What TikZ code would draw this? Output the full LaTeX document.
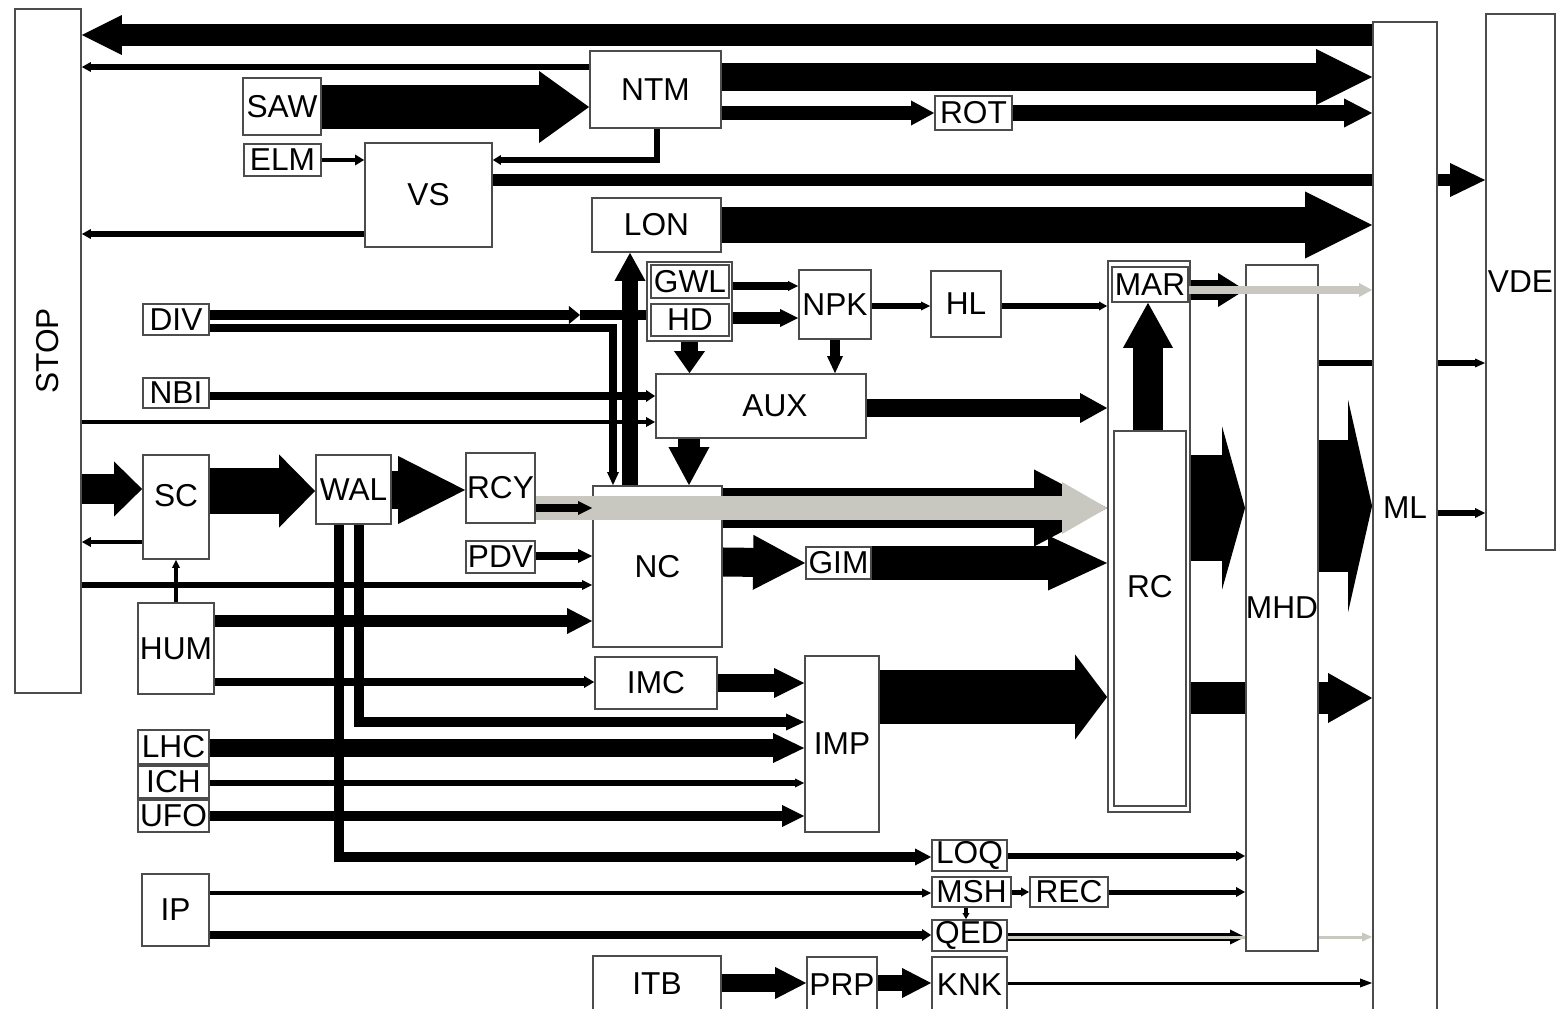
\documentclass[tikz,border=0pt]{standalone}
\usepackage{fontspec}
\setmainfont{Liberation Sans}
\usetikzlibrary{arrows.meta}
\pgfdeclarelayer{bg}
\pgfdeclarelayer{fg}
\pgfsetlayers{bg,main,fg}
\definecolor{flowgray}{RGB}{200,200,192}
\tikzset{
  box/.style={draw=black!70, fill=white, line width=0.5pt, inner sep=0pt},
  wh/.style 2 args={minimum width=#1cm, minimum height=#2cm},
  arr/.style n args={3}{line width=#1cm, -{Triangle[length=#2cm, width=#3cm, line width=0pt]}},
  ln/.style={line width=#1cm},
}

\begin{document}
\begin{tikzpicture}[x=0.01cm, y=-0.01cm, font=\fontsize{9}{10}\selectfont]
        \useasboundingbox (0,0) rectangle (1565,1009);

        % Bloecke links und rechts
        \node[box, wh={0.66}{6.84}, label={[rotate=90]center:STOP}] (stop) at (48,351) {};
        \node[box, wh={0.64}{9.90}, label={[yshift=0.09cm]center:ML}] (ml) at (1405,517) {};
        \node[box, wh={0.69}{5.36}] (vde) at (1520.5,282) {VDE};

        % Bloecke oben
        \node[box, wh={1.31}{0.77}] (ntm) at (655.5,89.5) {NTM};
        \node[box, wh={0.78}{0.57}] (saw) at (282,106.5) {SAW};
        \node[box, wh={0.77}{0.32}] (elm) at (282.5,160) {ELM};
        \node[box, wh={1.27}{1.04}] (vs) at (428.5,195) {VS};
        \node[box, wh={0.77}{0.34}] (rot) at (973.5,113) {ROT};
        \node[box, wh={1.29}{0.54}] (lon) at (656.5,225) {LON};

        % Gruppen
        \node[box, fill=none, wh={0.85}{0.79}] (gwlhd) at (689.5,301.5) {};
        \node[box, wh={0.78}{0.33}] (gwl) at (690,281.5) {GWL};
        \node[box, wh={0.78}{0.32}] (hd) at (690,320) {HD};
        \node[box, fill=none, wh={0.82}{5.51}] (marrc) at (1149,536.5) {};
        \node[box, wh={0.76}{0.35}] (mar) at (1150,284.5) {MAR};
        \node[box, wh={0.72}{3.75}, label={[yshift=0.32cm]center:RC}] (rc) at (1150,618.5) {};

        % Bloecke Mitte
        \node[box, wh={0.72}{0.69}] (npk) at (835,304.5) {NPK};
        \node[box, wh={0.70}{0.66}] (hl) at (966,304) {HL};
        \node[box, wh={0.72}{6.86}] (mhd) at (1282,608) {MHD};
        \node[box, wh={2.10}{0.64}, label={[xshift=0.14cm]center:AUX}] (aux) at (761,406) {};
        \node[box, wh={0.66}{0.31}] (div) at (176,319.5) {DIV};
        \node[box, wh={0.66}{0.30}] (nbi) at (176,393) {NBI};
        \node[box, wh={0.66}{1.04}, label={[yshift=0.11cm]center:SC}] (sc) at (176,507) {};
        \node[box, wh={0.75}{0.69}] (wal) at (353.5,489.5) {WAL};
        \node[box, wh={0.69}{0.70}] (rcy) at (500.5,488) {RCY};
        \node[box, wh={0.69}{0.32}] (pdv) at (500.5,557) {PDV};
        \node[box, wh={1.29}{1.61}] (nc) at (657.5,566.5) {NC};
        \node[box, wh={0.65}{0.32}] (gim) at (838.5,563) {GIM};
        \node[box, wh={0.76}{0.91}] (hum) at (176,648.5) {HUM};
        \node[box, wh={1.22}{0.52}] (imc) at (656,683) {IMC};
        \node[box, wh={0.74}{1.76}] (imp) at (842,744) {IMP};

        % Bloecke unten
        \node[box, wh={0.71}{0.34}] (lhc) at (173.5,747) {LHC};
        \node[box, wh={0.71}{0.32}] (ich) at (173.5,782) {ICH};
        \node[box, wh={0.71}{0.32}] (ufo) at (173.5,816) {UFO};
        \node[box, wh={0.67}{0.72}] (ip) at (175.5,910) {IP};
        \node[box, wh={0.75}{0.31}] (loq) at (969.5,855.5) {LOQ};
        \node[box, wh={0.79}{0.30}] (msh) at (971.5,892) {MSH};
        \node[box, wh={0.78}{0.30}] (rec) at (1069,892) {REC};
        \node[box, wh={0.75}{0.31}] (qed) at (969.5,935.5) {QED};
        \node[box, wh={1.28}{0.56}] (itb) at (657,984) {ITB};
        \node[box, wh={0.70}{0.55}] (prp) at (842,984.5) {PRP};
        \node[box, wh={0.75}{0.55}] (knk) at (969.5,984.5) {KNK};

        \begin{pgfonlayer}{bg}
            \fill[white] (0,0) rectangle (1565,1009);

            % oben
            \draw[arr={0.21}{0.40}{0.40}] (ml.west |- 0,35) -- (stop.east |- 0,35);
            \draw[arr={0.06}{0.09}{0.10}] (ntm.west |- 0,67) -- (stop.east |- 0,67);
            \draw[arr={0.43}{0.50}{0.72}] (saw.east |- 0,107) -- (ntm.west |- 0,107);
            \draw[arr={0.28}{0.56}{0.56}] (ntm.east |- 0,77) -- (ml.west |- 0,77);
            \draw[arr={0.13}{0.23}{0.25}] (ntm.east |- 0,113) -- (rot.west);
            \draw[arr={0.15}{0.28}{0.29}] (rot.east) -- (ml.west |- 0,113);
            \draw[arr={0.04}{0.09}{0.11}] (elm.east) -- (vs.west |- elm.east);
            \draw[arr={0.06}{0.08}{0.10}] (ntm.south -| 657,0) |- (vs.east |- 0,160);
            \draw[arr={0.05}{0.09}{0.10}] (vs.west |- 0,234) -- (stop.east |- 0,234);
            \draw[arr={0.12}{0.35}{0.34}] (vs.east |- 0,180) -- (vde.west |- 0,180);
            \draw[arr={0.36}{0.67}{0.67}] (lon.east) -- (ml.west |- lon.east);

            % Mitte
            \draw[arr={0.16}{0.28}{0.31}] (nc.north -| 630,0) -- (lon.south -| 630,0);
            \coordinate (divmid) at (580,315);
            \draw[ln=0.10] (divmid) -- (gwlhd.west |- divmid);
            \draw[arr={0.10}{0.11}{0.18}] (div.east |- divmid) -- (divmid);
            \draw[arr={0.07}{0.13}{0.12}] (div.east |- 0,328) -| (nc.north -| 613,0);
            \draw[arr={0.07}{0.09}{0.12}] (nbi.east |- 0,396) -- (aux.west |- 0,396);
            \draw[arr={0.04}{0.09}{0.10}] (stop.east |- 0,422) -- (aux.west |- 0,422);
            \draw[arr={0.07}{0.10}{0.10}] (gwlhd.east |- 0,286) -- (npk.west |- 0,286);
            \draw[arr={0.12}{0.18}{0.18}] (gwlhd.east |- 0,318) -- (npk.west |- 0,318);
            \draw[arr={0.16}{0.22}{0.31}] (gwlhd.south) -- (aux.north -| gwlhd.south);
            \draw[arr={0.10}{0.17}{0.16}] (npk.south) -- (aux.north -| npk.south);
            \draw[arr={0.06}{0.09}{0.09}] (npk.east |- 0,306) -- (hl.west |- 0,306);
            \draw[arr={0.05}{0.08}{0.09}] (hl.east |- 0,306) -- (marrc.west |- 0,306);
            \draw[arr={0.17}{0.27}{0.30}] (aux.east |- 0,408) -- (marrc.west |- 0,408);
            \draw[arr={0.22}{0.38}{0.41}] (aux.south -| 689,0) -- (nc.north -| 689,0);
            \draw[arr={0.39}{0.73}{0.77}] (nc.east |- 0,508) -- (marrc.west |- 0,508);
            \draw[arr={0.08}{0.14}{0.14}] (pdv.east |- 0,556) -- (nc.west |- 0,556);
            \draw[arr={0.05}{0.10}{0.10}] (stop.east |- 0,585) -- (nc.west |- 0,585);
            \draw[arr={0.04}{0.09}{0.10}] (sc.west |- 0,542) -- (stop.east |- 0,542);
            \draw[arr={0.03}{0.08}{0.08}] (hum.north) -- (sc.south);
            \draw[arr={0.12}{0.25}{0.26}] (hum.east |- 0,621) -- (nc.west |- 0,621);
            \draw[arr={0.07}{0.10}{0.12}] (hum.east |- 0,682) -- (imc.west |- 0,682);
            \draw[arr={0.29}{0.28}{0.55}] (stop.east |- 0,489) -- (sc.west |- 0,489);
            \draw[arr={0.45}{0.36}{0.73}] (sc.east |- 0,491) -- (wal.west |- 0,491);
            \draw[arr={0.37}{0.67}{0.68}] (wal.east |- 0,490) -- (rcy.west |- 0,490);
            \draw[arr={0.29}{0.52}{0.55}] (nc.east |- 0,562) -- (gim.west);
            \draw[arr={0.33}{0.59}{0.55}] (gim.east) -- (marrc.west |- gim.east);

            % unten
            \draw[arr={0.10}{0.16}{0.17}] (wal.south -| 339,0) |- (loq.west |- 0,857);
            \draw[arr={0.10}{0.18}{0.17}] (wal.south -| 359,0) |- (imp.west |- 0,722);
            \draw[arr={0.17}{0.31}{0.30}] (lhc.east |- 0,748) -- (imp.west |- 0,748);
            \draw[arr={0.05}{0.09}{0.09}] (ich.east |- 0,783) -- (imp.west |- 0,783);
            \draw[arr={0.09}{0.22}{0.22}] (ufo.east |- 0,816) -- (imp.west |- 0,816);
            \draw[arr={0.17}{0.30}{0.30}] (imc.east) -- (imp.west |- imc.east);
            \draw[arr={0.53}{0.32}{0.85}] (imp.east |- 0,697) -- (marrc.west |- 0,697);

            % rechts
            \draw[arr={0.30}{0.45}{0.50}] (rc.north -| 1148,0) -- (mar.south -| 1148,0);
            \draw[arr={0.20}{0.27}{0.34}] (mar.east |- 0,290) -- (mhd.west |- 0,290);
            \draw[arr={1.05}{0.23}{1.63}] (marrc.east |- 0,508) -- (mhd.west |- 0,508);
            \draw[arr={1.32}{0.24}{2.12}] (mhd.east |- 0,506) -- (ml.west |- 0,506);
            \draw[arr={0.31}{0.44}{0.50}] (marrc.east |- 0,698) -- (ml.west |- 0,698);
            \draw[arr={0.05}{0.10}{0.09}] (mhd.east |- 0,363) -- (vde.west |- 0,363);
            \draw[arr={0.06}{0.10}{0.10}] (ml.east |- 0,513) -- (vde.west |- 0,513);
            \draw[arr={0.06}{0.09}{0.10}] (loq.east |- 0,856) -- (mhd.west |- 0,856);
            \draw[arr={0.05}{0.08}{0.09}] (msh.east) -- (rec.west);
            \draw[arr={0.05}{0.09}{0.10}] (rec.east) -- (mhd.west |- rec.east);
            \draw[arr={0.04}{0.06}{0.07}] (msh.south -| 966,0) -- (qed.north -| 966,0);
            \draw[arr={0.045}{0.09}{0.09}] (ip.east |- 0,893) -- (msh.west |- 0,893);
            \draw[arr={0.07}{0.09}{0.12}] (ip.east |- 0,935) -- (qed.west |- 0,935);
            \draw[arr={0.08}{0.15}{0.15}] (qed.east |- 0,937) -- (mhd.west |- 0,937);
            \draw[flowgray, arr={0.03}{0.10}{0.09}] (qed.east |- 0,937) -- (ml.west |- 0,937);
            \draw[arr={0.03}{0.12}{0.09}] (knk.east |- 0,983) -- (ml.west |- 0,983);
            \draw[arr={0.17}{0.31}{0.32}] (itb.east |- 0,983) -- (prp.west |- 0,983);
            \draw[arr={0.16}{0.29}{0.30}] (prp.east |- 0,983) -- (knk.west |- 0,983);
        \end{pgfonlayer}

        % graue Pfeile obenauf
        \begin{pgfonlayer}{fg}
            \draw[flowgray, arr={0.23}{0.45}{0.52}] (rcy.east |- 0,508) -- (marrc.west |- 0,508);
            \draw[arr={0.08}{0.14}{0.14}] (rcy.east |- 0,508) -- (nc.west |- 0,508);
            \draw[flowgray, arr={0.08}{0.13}{0.14}] (mar.east |- 0,290) -- (ml.west |- 0,290);
        \end{pgfonlayer}

    \end{tikzpicture}
\end{document}
